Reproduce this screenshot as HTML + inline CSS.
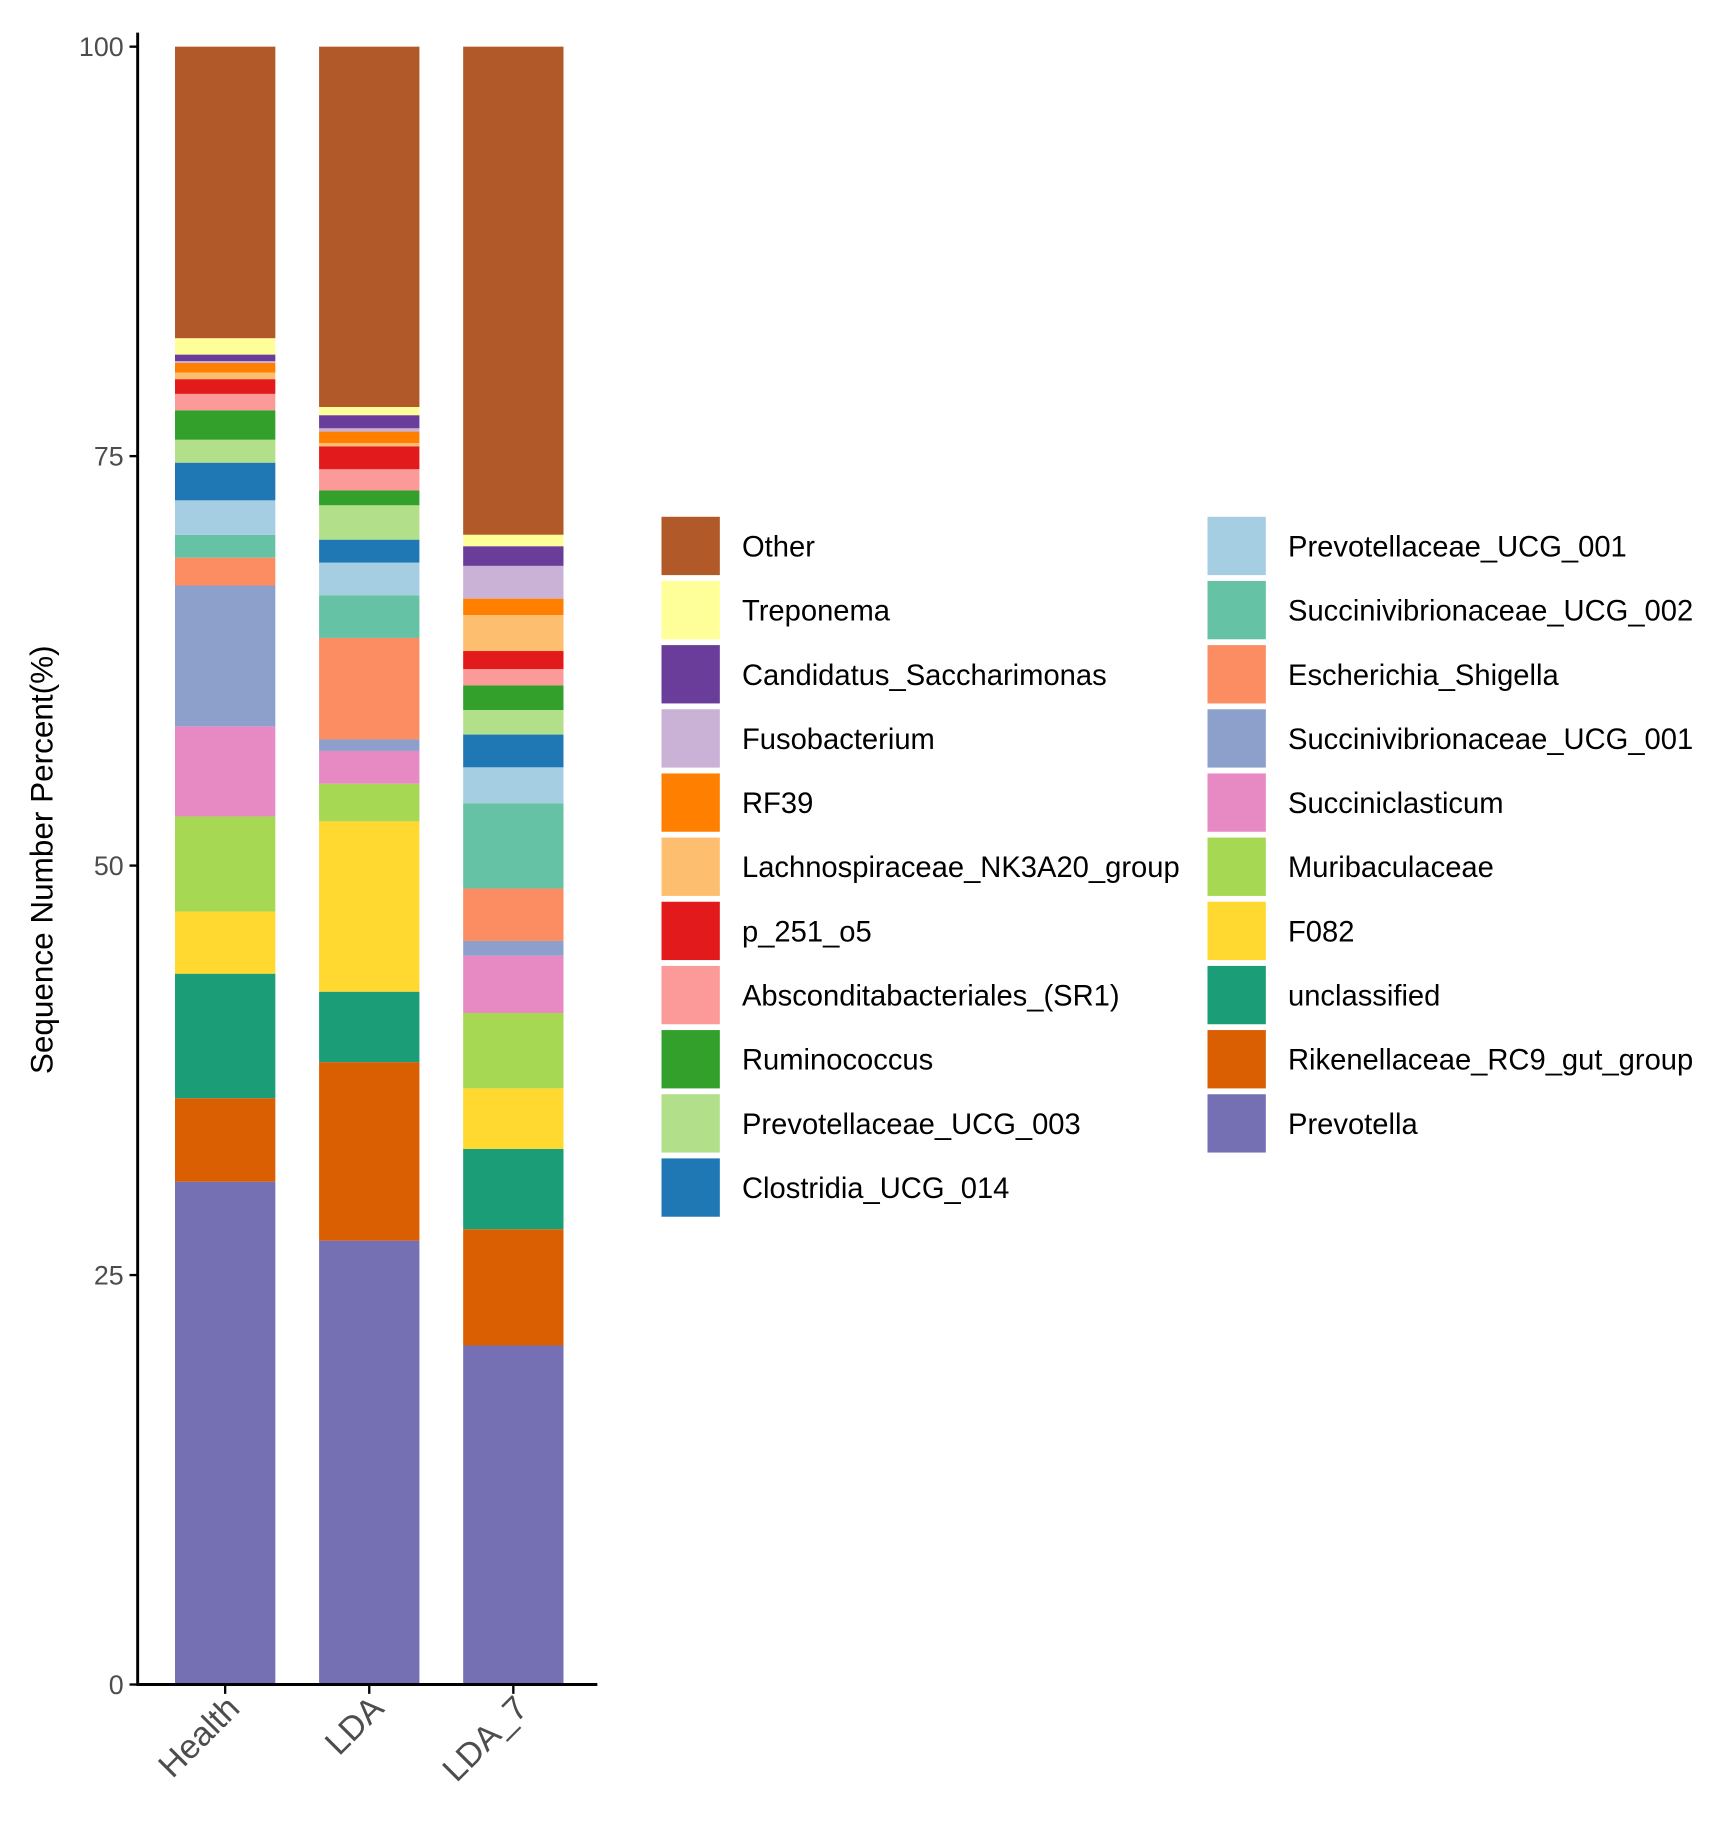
<!DOCTYPE html>
<html><head><meta charset="utf-8"><style>
html,body{margin:0;padding:0;background:#fff;}
svg{display:block;font-family:"Liberation Sans",Arial,sans-serif;}
</style></head><body>
<svg id="chart" width="1715" height="1821" viewBox="0 0 1470 1561" preserveAspectRatio="none" xmlns="http://www.w3.org/2000/svg">
<g id="bars"></g>
<g id="axes"></g>
<g id="legend"></g>
</svg>
<script>
const categories = ["Health","LDA","LDA_7"];
const taxa = ["Prevotella","Rikenellaceae_RC9_gut_group","unclassified","F082","Muribaculaceae","Succiniclasticum","Succinivibrionaceae_UCG_001","Escherichia_Shigella","Succinivibrionaceae_UCG_002","Prevotellaceae_UCG_001","Clostridia_UCG_014","Prevotellaceae_UCG_003","Ruminococcus","Absconditabacteriales_(SR1)","p_251_o5","Lachnospiraceae_NK3A20_group","RF39","Fusobacterium","Candidatus_Saccharimonas","Treponema","Other"];
const colors = ["#7570B3","#D95F02","#1B9E77","#FFD92F","#A6D854","#E78AC3","#8DA0CB","#FC8D62","#66C2A5","#A6CEE3","#1F78B4","#B2DF8A","#33A02C","#FB9A99","#E31A1C","#FDBF6F","#FF7F00","#CAB2D6","#6A3D9A","#FFFF99","#B15928"];
const healthValues = [30.7,5.1,7.6,3.8,5.8,5.5,8.6,1.7,1.4,2.1,2.3,1.4,1.8,1.0,0.9,0.4,0.6,0.1,0.4,1.0,17.8];
const ldaValues = [27.1,10.9,4.3,10.4,2.3,2.0,0.7,6.2,2.6,2.0,1.4,2.1,0.9,1.3,1.4,0.2,0.7,0.2,0.8,0.5,22.0];
const lda7Values = [20.7,7.1,4.9,3.7,4.6,3.5,0.9,3.2,5.2,2.2,2.0,1.5,1.5,1.0,1.1,2.2,1.0,2.0,1.2,0.7,29.8];
const yTicks = [0,25,50,75,100];
const legendCol1 = ["Other","Treponema","Candidatus_Saccharimonas","Fusobacterium","RF39","Lachnospiraceae_NK3A20_group","p_251_o5","Absconditabacteriales_(SR1)","Ruminococcus","Prevotellaceae_UCG_003","Clostridia_UCG_014"];
const legendCol2 = ["Prevotellaceae_UCG_001","Succinivibrionaceae_UCG_002","Escherichia_Shigella","Succinivibrionaceae_UCG_001","Succiniclasticum","Muribaculaceae","F082","unclassified","Rikenellaceae_RC9_gut_group","Prevotella"];

const NS="http://www.w3.org/2000/svg";
const series=[healthValues,ldaValues,lda7Values];
const y0=1444, y100=40, axX=118;
const yScale=v=>y0-(y0-y100)*v/100;
const xCenter=i=>193+i*123.5;
const barW=86;
function mk(tag,attrs,parent){const e=document.createElementNS(NS,tag);for(const k in attrs)e.setAttribute(k,attrs[k]);parent.appendChild(e);return e;}
const gb=document.getElementById('bars');
series.forEach((vals,i)=>{
  let cum=0;
  vals.forEach((v,j)=>{
    const r=mk('rect',{x:xCenter(i)-barW/2,y:yScale(cum+v),width:barW,height:yScale(cum)-yScale(cum+v),fill:colors[j]},gb);
    
    
    cum+=v;
  });
});
const ga=document.getElementById('axes');
let l=mk('line',{x1:axX,y1:28,x2:axX,y2:y0+1,stroke:'#000','stroke-width':2.5},ga);


l=mk('line',{x1:axX-1,y1:y0,x2:512,y2:y0,stroke:'#000','stroke-width':2.5},ga);


yTicks.forEach(t=>{
  mk('line',{x1:axX-7,y1:yScale(t),x2:axX,y2:yScale(t),stroke:'#000','stroke-width':2},ga);
  const tx=mk('text',{x:axX-12,y:yScale(t)+8,'text-anchor':'end','font-size':23,fill:'#4d4d4d'},ga);
  tx.textContent=t;
  
  
});
categories.forEach((c,i)=>{
  mk('line',{x1:xCenter(i),y1:y0,x2:xCenter(i),y2:y0+8,stroke:'#000','stroke-width':2},ga);
  const tx=mk('text',{x:0,y:0,'text-anchor':'end','font-size':29,fill:'#4d4d4d',transform:`translate(${xCenter(i)+14},${y0+22}) rotate(-45)`},ga);
  tx.textContent=c;
  
  
});
const yt=mk('text',{x:0,y:0,'text-anchor':'middle','font-size':27,fill:'#000',transform:'translate(45,737) rotate(-90)'},ga);
yt.textContent='Sequence Number Percent(%)';


const gl=document.getElementById('legend');
[[legendCol1,567],[legendCol2,1035]].forEach(([col,x])=>{
  col.forEach((name,k)=>{
    const yy=443+k*55;
    const r=mk('rect',{x:x,y:yy,width:50,height:50,fill:colors[taxa.indexOf(name)]},gl);
    
    
    const tx=mk('text',{x:x+69,y:yy+34,'font-size':25,fill:'#000'},gl);
    tx.textContent=name;
    
    
  });
});
</script>
</body></html>
